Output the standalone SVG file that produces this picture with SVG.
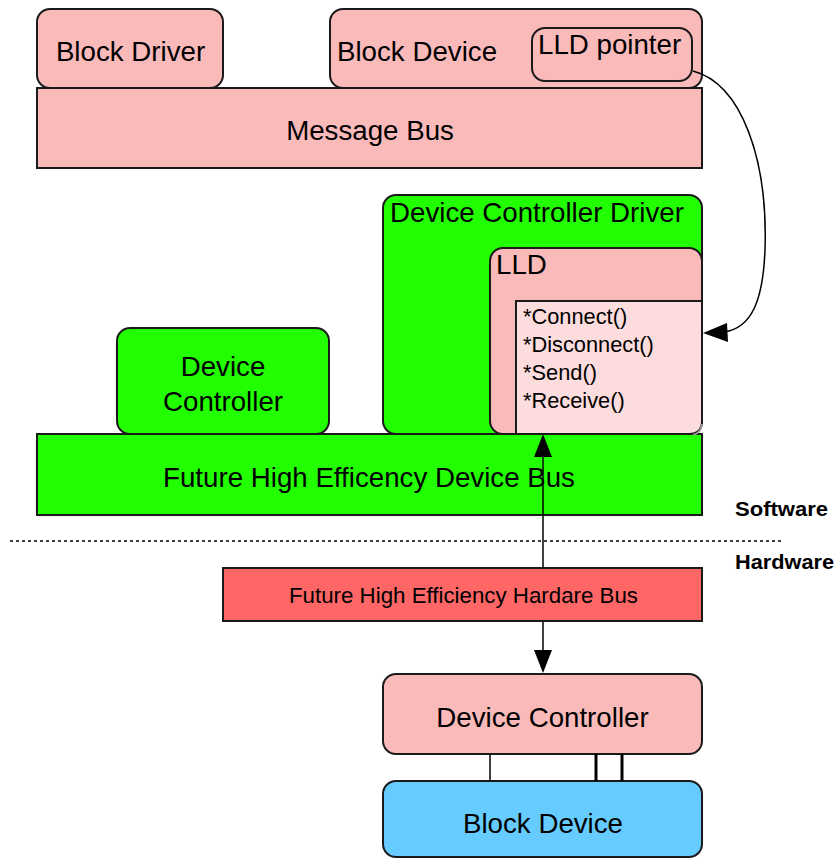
<svg xmlns="http://www.w3.org/2000/svg" width="836" height="858" viewBox="0 0 836 858">
<defs>
<style>
.box{stroke:#1a1a1a;stroke-width:2}
.pink{fill:#fbbaba}
.green{fill:#22ff00}
.t{font-family:"Liberation Sans",Arial,Helvetica,sans-serif;font-size:27.7px;fill:#000}
.s{font-family:"Liberation Sans",Arial,Helvetica,sans-serif;font-size:21.8px;fill:#000}
.h{font-family:"Liberation Sans",Arial,Helvetica,sans-serif;font-size:22.3px;fill:#000}
.b{font-family:"Liberation Sans",Arial,Helvetica,sans-serif;font-size:21px;font-weight:bold;fill:#000}
.c{text-anchor:middle}
.line{stroke:#000;fill:none;stroke-width:1.5}
</style>
</defs>
<rect width="836" height="858" fill="#fff"/>

<g id="message-bus">
<rect class="box pink" x="37" y="88" width="665" height="80"/>
<text class="t c" x="370" y="140">Message Bus</text>
</g>

<g id="block-driver">
<rect class="box pink" x="37" y="9" width="186" height="79" rx="13"/>
<text class="t c" x="130.5" y="61">Block Driver</text>
</g>

<g id="block-device-sw">
<rect class="box pink" x="330" y="9" width="372" height="79" rx="13"/>
<text class="t" x="337" y="61">Block Device</text>
</g>

<g id="lld-pointer">
<rect class="box pink" x="532" y="28" width="160" height="53" rx="13"/>
<text class="t" x="538" y="54">LLD pointer</text>
</g>

<g id="device-bus">
<rect class="box green" x="37" y="434" width="665" height="81"/>
<text class="t c" x="369" y="487">Future High Efficency Device Bus</text>
</g>

<g id="device-controller-sw">
<rect class="box green" x="117" y="328" width="212" height="106" rx="13"/>
<text class="t c" x="223" y="376">Device</text>
<text class="t c" x="223" y="411">Controller</text>
</g>

<g id="device-controller-driver">
<rect class="box green" x="383" y="195" width="319" height="239" rx="13"/>
<text class="t" x="390" y="222">Device Controller Driver</text>
</g>

<g id="lld">
<rect class="box pink" x="490" y="248" width="212" height="186" rx="13"/>
<text class="t" x="496" y="274">LLD</text>
<path d="M516,301 H702 V421 Q702,434 689,434 H516 Z" fill="#fcdcdc" stroke="#1a1a1a" stroke-width="2"/>
<path d="M702,424 Q701,433 693,435" fill="none" stroke="#9a9a9a" stroke-width="2"/>
<text class="s" x="523" y="324">*Connect()</text>
<text class="s" x="523" y="352">*Disconnect()</text>
<text class="s" x="523" y="380">*Send()</text>
<text class="s" x="523" y="408">*Receive()</text>
</g>

<g id="labels">
<line x1="10" y1="541" x2="781" y2="541" stroke="#000" stroke-width="1.5" stroke-dasharray="3,3"/>
<text class="b" x="735" y="516" textLength="93" lengthAdjust="spacingAndGlyphs">Software</text>
<text class="b" x="735" y="569" textLength="99" lengthAdjust="spacingAndGlyphs">Hardware</text>
</g>

<g id="hardware-bus">
<rect class="box" fill="#ff6666" x="223" y="568" width="479" height="53"/>
<text class="h c" x="463.5" y="603">Future High Efficiency Hardare Bus</text>
</g>

<g id="device-controller-hw">
<rect class="box pink" x="383" y="674" width="319" height="80" rx="13"/>
<text class="t c" x="542.5" y="727">Device Controller</text>
</g>

<g id="block-device-hw">
<rect class="box" fill="#66ccff" x="383" y="781" width="319" height="76" rx="13"/>
<text class="t c" x="543" y="833">Block Device</text>
</g>

<g id="connectors">
<path class="line" d="M693,71 C742,84 768,160 765,250 C763,300 752,328 724,332"/>
<polygon points="703,333 727,323 728,342" fill="#000"/>
<line class="line" x1="543" y1="455" x2="543" y2="568"/>
<polygon points="543,434 534,457 552,457" fill="#000"/>
<line class="line" x1="543" y1="621" x2="543" y2="652"/>
<polygon points="543,673 534,650 552,650" fill="#000"/>
<line x1="490" y1="754" x2="490" y2="781" stroke="#000" stroke-width="1.5"/>
<line x1="596" y1="754" x2="596" y2="781" stroke="#000" stroke-width="3"/>
<line x1="622" y1="754" x2="622" y2="781" stroke="#000" stroke-width="3"/>
</g>
</svg>
